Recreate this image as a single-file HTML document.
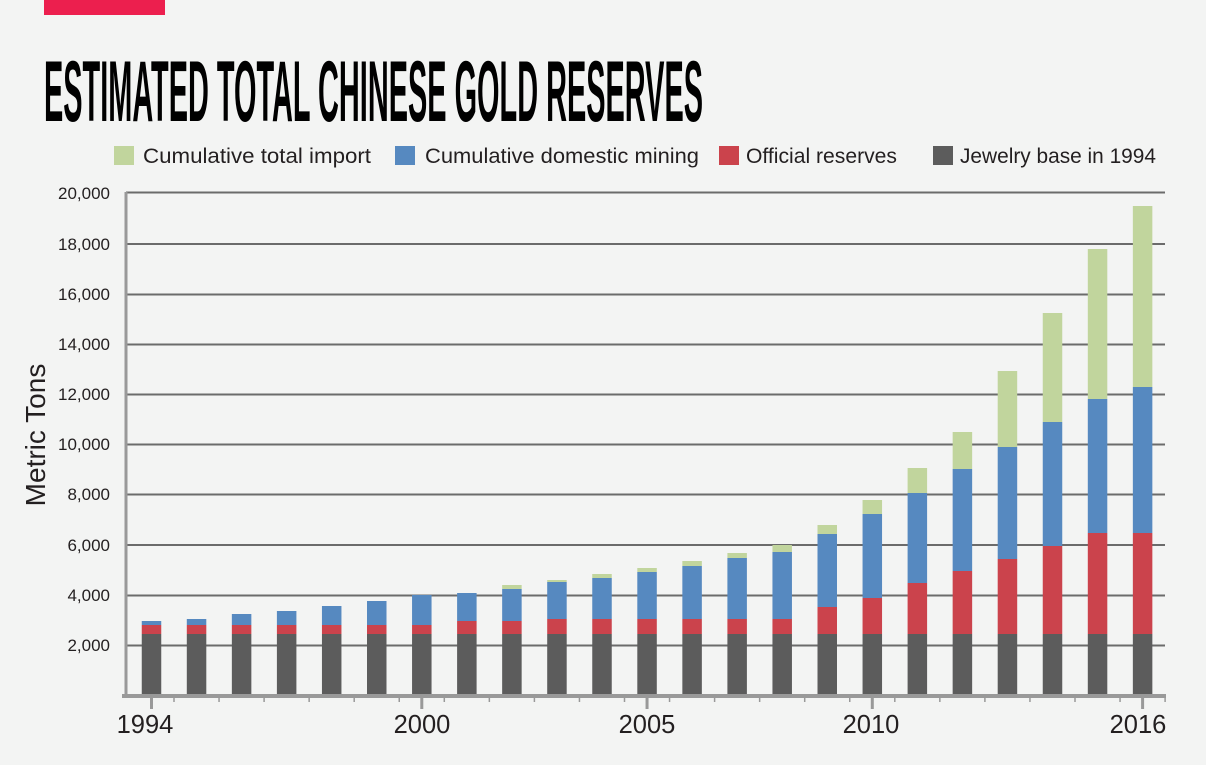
<!DOCTYPE html>
<html><head><meta charset="utf-8"><style>
html,body{margin:0;padding:0;background:#f3f4f3;}
svg{display:block;}
text{font-family:"Liberation Sans",sans-serif;}
</style></head><body>
<svg width="1206" height="765" viewBox="0 0 1206 765" xmlns="http://www.w3.org/2000/svg">
<rect width="1206" height="765" fill="#f3f4f3"/>
<rect x="44" y="0" width="121" height="15" fill="#ec1f4e"/>
<text x="44" y="121" font-family="Liberation Sans Narrow, Liberation Sans, sans-serif" font-weight="bold" font-size="86" textLength="659" lengthAdjust="spacingAndGlyphs" fill="#000">ESTIMATED TOTAL CHINESE GOLD RESERVES</text>
<g font-size="21" fill="#231f20">
<rect x="114" y="146" width="20" height="19" fill="#c1d59d"/>
<text x="143" y="163" textLength="228" lengthAdjust="spacingAndGlyphs">Cumulative total import</text>
<rect x="395" y="146" width="20" height="19" fill="#5689c0"/>
<text x="425" y="163" textLength="274" lengthAdjust="spacingAndGlyphs">Cumulative domestic mining</text>
<rect x="719" y="146" width="20" height="19" fill="#cb434c"/>
<text x="746" y="163" textLength="151" lengthAdjust="spacingAndGlyphs">Official reserves</text>
<rect x="933" y="146" width="20" height="19" fill="#5c5c5c"/>
<text x="960" y="163" textLength="196" lengthAdjust="spacingAndGlyphs">Jewelry base in 1994</text>
</g>
<g stroke="#6b6b6b" stroke-width="2">
<line x1="126" y1="192.5" x2="1165" y2="192.5"/>
<line x1="126" y1="244" x2="1165" y2="244"/>
<line x1="126" y1="294.5" x2="1165" y2="294.5"/>
<line x1="126" y1="344.5" x2="1165" y2="344.5"/>
<line x1="126" y1="394.5" x2="1165" y2="394.5"/>
<line x1="126" y1="444.5" x2="1165" y2="444.5"/>
<line x1="126" y1="494.5" x2="1165" y2="494.5"/>
<line x1="126" y1="545" x2="1165" y2="545"/>
<line x1="126" y1="595.5" x2="1165" y2="595.5"/>
<line x1="126" y1="645.5" x2="1165" y2="645.5"/>
</g>
<g font-size="17" fill="#231f20" text-anchor="end">
<text x="110" y="199">20,000</text>
<text x="110" y="250">18,000</text>
<text x="110" y="300">16,000</text>
<text x="110" y="350">14,000</text>
<text x="110" y="400">12,000</text>
<text x="110" y="450">10,000</text>
<text x="110" y="500">8,000</text>
<text x="110" y="551">6,000</text>
<text x="110" y="601">4,000</text>
<text x="110" y="651">2,000</text>
</g>
<text transform="translate(45,435) rotate(-90)" font-size="28" fill="#231f20" text-anchor="middle">Metric Tons</text>
<g id="bars"></g>
<rect x="124.5" y="192" width="3" height="504" fill="#999"/>
<rect x="122" y="694" width="1044" height="4" fill="#999"/>
<g id="ticks"></g>
<g font-size="25.5" fill="#231f20" text-anchor="middle">
<text x="145" y="733">1994</text>
<text x="422" y="733">2000</text>
<text x="647" y="733">2005</text>
<text x="871" y="733">2010</text>
<text x="1138" y="733">2016</text>
</g>
<script>
var ns="http://www.w3.org/2000/svg";
var red=[625,625,625,625,625,625,625,621,621,619,619,619,619,619,619,607,598,583,571,559,546,533,533];
var blue=[621,619,614,611,606,601,595,593,589,582,578,572,566,558,552,534,514,493,469,447,422,399,387];
var green=[621,619,614,611,606,601,595,593,585,580,574,568,561,553,545,525,500,468,432,371,313,249,206];
var g=document.getElementById("bars");
function r(x,y1,y2,c){if(y2<=y1)return;var e=document.createElementNS(ns,"rect");e.setAttribute("x",x);e.setAttribute("y",y1);e.setAttribute("width",19.5);e.setAttribute("height",y2-y1);e.setAttribute("fill",c);g.appendChild(e);}
for(var i=0;i<23;i++){var cx=151.5+i*45.05,x=cx-9.75;
r(x,634,695,"#5c5c5c");r(x,red[i],634,"#cb434c");r(x,blue[i],red[i],"#5689c0");r(x,green[i],blue[i],"#c1d59d");}
var t=document.getElementById("ticks");
function l(x,y2,w){var e=document.createElementNS(ns,"line");e.setAttribute("x1",x);e.setAttribute("x2",x);e.setAttribute("y1",697);e.setAttribute("y2",y2);e.setAttribute("stroke","#999");e.setAttribute("stroke-width",w);t.appendChild(e);}
[0,6,11,16,22].forEach(function(i){l(151.5+i*45.05,709,3);});
for(var i=0;i<23;i++){l(151.5+i*45.05+22.5,702,1.5);}
</script>
</svg>
</body></html>
